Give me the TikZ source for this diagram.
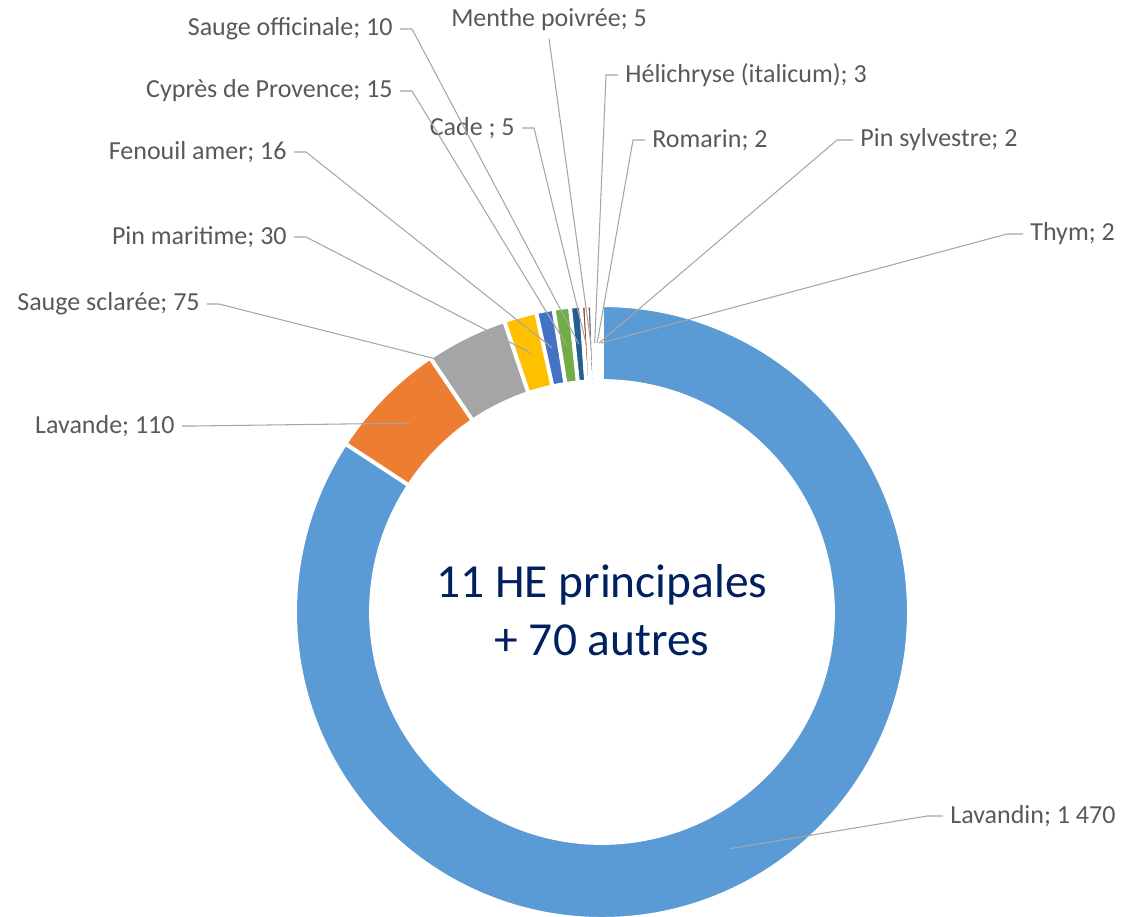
\documentclass[tikz,border=0pt]{standalone}
\usepackage{fontspec}
\setmainfont{Carlito}
\usepackage{xcolor}
\usepackage{tikz}
\usetikzlibrary{positioning,calc}
\definecolor{cLavandin}{HTML}{5B9BD5}
\definecolor{cLavande}{HTML}{ED7D31}
\definecolor{cSaugeScl}{HTML}{A5A5A5}
\definecolor{cPinMar}{HTML}{FFC000}
\definecolor{cFenouil}{HTML}{4472C4}
\definecolor{cCypres}{HTML}{70AD47}
\definecolor{cSaugeOff}{HTML}{255E91}
\definecolor{cCade}{HTML}{9E480E}
\definecolor{cMenthe}{HTML}{636363}
\definecolor{cHelichryse}{HTML}{997300}
\definecolor{cRomarin}{HTML}{264478}
\definecolor{cPinSylv}{HTML}{43682B}
\definecolor{cThym}{HTML}{7CAFDD}
\definecolor{leadgray}{HTML}{A6A6A6}
\definecolor{lblgray}{HTML}{595959}
\definecolor{navy}{HTML}{002060}
\tikzstyle{slice} = [draw=white, line width=2.2pt]
\tikzstyle{leader} = [draw=leadgray, line width=0.6pt]
\tikzstyle{lbl} = [text=lblgray, font=\fontsize{14.8}{17}\selectfont, inner sep=4pt]

\begin{document}
\begin{tikzpicture}[x=0.02cm, y=0.02cm]
        \useasboundingbox (0,0) rectangle (1122,-916);
        % anneau (rayons 6.14cm et 4.62cm)
        \begin{scope}[shift={(602,-612)}]
        \draw[slice, fill=cLavandin] (90:6.14cm) arc[start angle=90, end angle=-213.267, radius=6.14cm] -- (-213.267:4.62cm) arc[start angle=-213.267, end angle=90, radius=4.62cm] -- cycle;
        \draw[slice, fill=cLavande] (-213.267:6.14cm) arc[start angle=-213.267, end angle=-235.960, radius=6.14cm] -- (-235.960:4.62cm) arc[start angle=-235.960, end angle=-213.267, radius=4.62cm] -- cycle;
        \draw[slice, fill=cSaugeScl] (-235.960:6.14cm) arc[start angle=-235.960, end angle=-251.433, radius=6.14cm] -- (-251.433:4.62cm) arc[start angle=-251.433, end angle=-235.960, radius=4.62cm] -- cycle;
        \draw[slice, fill=cPinMar] (-251.433:6.14cm) arc[start angle=-251.433, end angle=-257.622, radius=6.14cm] -- (-257.622:4.62cm) arc[start angle=-257.622, end angle=-251.433, radius=4.62cm] -- cycle;
        \draw[slice, fill=cFenouil] (-257.622:6.14cm) arc[start angle=-257.622, end angle=-260.923, radius=6.14cm] -- (-260.923:4.62cm) arc[start angle=-260.923, end angle=-257.622, radius=4.62cm] -- cycle;
        \draw[slice, fill=cCypres] (-260.923:6.14cm) arc[start angle=-260.923, end angle=-264.018, radius=6.14cm] -- (-264.018:4.62cm) arc[start angle=-264.018, end angle=-260.923, radius=4.62cm] -- cycle;
        \draw[slice, fill=cSaugeOff] (-264.018:6.14cm) arc[start angle=-264.018, end angle=-266.081, radius=6.14cm] -- (-266.081:4.62cm) arc[start angle=-266.081, end angle=-264.018, radius=4.62cm] -- cycle;
        \draw[slice, fill=cCade] (-266.081:6.14cm) arc[start angle=-266.081, end angle=-267.113, radius=6.14cm] -- (-267.113:4.62cm) arc[start angle=-267.113, end angle=-266.081, radius=4.62cm] -- cycle;
        \draw[slice, fill=cMenthe] (-267.113:6.14cm) arc[start angle=-267.113, end angle=-268.145, radius=6.14cm] -- (-268.145:4.62cm) arc[start angle=-268.145, end angle=-267.113, radius=4.62cm] -- cycle;
        \draw[slice, fill=cHelichryse] (-268.145:6.14cm) arc[start angle=-268.145, end angle=-268.764, radius=6.14cm] -- (-268.764:4.62cm) arc[start angle=-268.764, end angle=-268.145, radius=4.62cm] -- cycle;
        \draw[slice, fill=cRomarin] (-268.764:6.14cm) arc[start angle=-268.764, end angle=-269.177, radius=6.14cm] -- (-269.177:4.62cm) arc[start angle=-269.177, end angle=-268.764, radius=4.62cm] -- cycle;
        \draw[slice, fill=cPinSylv] (-269.177:6.14cm) arc[start angle=-269.177, end angle=-269.590, radius=6.14cm] -- (-269.590:4.62cm) arc[start angle=-269.590, end angle=-269.177, radius=4.62cm] -- cycle;
        \draw[slice, fill=cThym] (-269.590:6.14cm) arc[start angle=-269.590, end angle=-270, radius=6.14cm] -- (-270:4.62cm) arc[start angle=-270, end angle=-269.590, radius=4.62cm] -- cycle;
        % milieux des parts
        \coordinate (mLavandin) at (-61.63:269);
        \coordinate (mLavande) at (-224.61:269);
        \coordinate (mSaugeScl) at (-243.70:269);
        \coordinate (mPinMar) at (-254.53:269);
        \coordinate (mFenouil) at (-259.27:269);
        \coordinate (mCypres) at (-262.47:269);
        \coordinate (mSaugeOff) at (-265.05:269);
        \coordinate (mCade) at (-266.60:269);
        \coordinate (mMenthe) at (-267.63:269);
        \coordinate (mHelichryse) at (-268.45:269);
        \coordinate (mRomarin) at (-268.97:269);
        \coordinate (mPinSylv) at (-269.38:269);
        \coordinate (mThym) at (-269.80:269);
        \end{scope}
        % etiquettes
        \node[lbl, anchor=east] (lSaugeOff) at (400,-29) {Sauge officinale; 10};
        \node[lbl, anchor=east] (lCypres) at (400,-91) {Cyprès de Provence; 15};
        \node[lbl, anchor=east] (lCade) at (522,-128) {Cade ; 5};
        \node[lbl, anchor=east] (lFenouil) at (294,-152) {Fenouil amer; 16};
        \node[lbl, anchor=east] (lPinMar) at (294,-237) {Pin maritime; 30};
        \node[lbl, anchor=east] (lSaugeScl) at (207,-304) {Sauge sclarée; 75};
        \node[lbl, anchor=east] (lLavande) at (182,-426) {Lavande; 110};
        \node[lbl] (lMenthe) at (549,-20) {Menthe poivrée; 5};
        \node[lbl, anchor=west] (lHelichryse) at (618,-75) {Hélichryse (italicum); 3};
        \node[lbl, anchor=west] (lRomarin) at (645,-140) {Romarin; 2};
        \node[lbl, anchor=west] (lPinSylv) at (853,-140) {Pin sylvestre; 2};
        \node[lbl, anchor=west] (lThym) at (1023,-234) {Thym; 2};
        \node[lbl, anchor=west] (lLavandin) at (943,-816) {Lavandin; 1 470};
        % lignes de rappel
        \draw[leader] (lSaugeOff.east) -- ++(12,0) -- (mSaugeOff);
        \draw[leader] (lCypres.east) -- ++(12,0) -- (mCypres);
        \draw[leader] (lCade.east) -- ++(12,0) -- (mCade);
        \draw[leader] (lFenouil.east) -- ++(12,0) -- (mFenouil);
        \draw[leader] (lPinMar.east) -- ++(12,0) -- (mPinMar);
        \draw[leader] (lSaugeScl.east) -- ++(12,0) -- (mSaugeScl);
        \draw[leader] (lLavande.east) -- ++(12,0) -- (mLavande);
        \draw[leader] (lMenthe.south) -- (mMenthe);
        \draw[leader] (lHelichryse.west) -- ++(-12,0) -- (mHelichryse);
        \draw[leader] (lRomarin.west) -- ++(-12,0) -- (mRomarin);
        \draw[leader] (lPinSylv.west) -- ++(-16,0) -- (mPinSylv);
        \draw[leader] (lThym.west) -- ++(-16,0) -- (mThym);
        \draw[leader] (lLavandin.west) -- ++(-16,0) -- (mLavandin);
        % texte central
        \node[text=navy, font=\fontsize{27}{33}\selectfont, align=center] (titre) at (602,-610) {11 HE principales\\+ 70 autres};
\end{tikzpicture}
\end{document}
